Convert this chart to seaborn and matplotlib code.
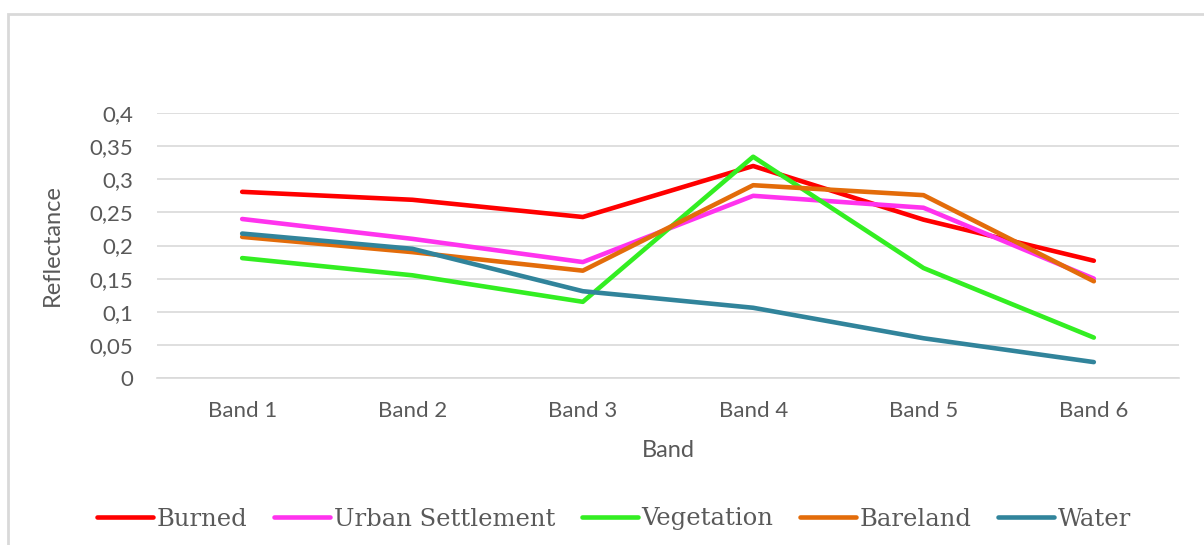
import seaborn as sns
import pandas as pd
import matplotlib.pyplot as plt
from matplotlib.patches import Rectangle
from matplotlib.ticker import FuncFormatter, MultipleLocator

bands = ["Band 1", "Band 2", "Band 3", "Band 4", "Band 5", "Band 6"]
burned = [0.281, 0.269, 0.243, 0.320, 0.239, 0.177]
urban = [0.240, 0.210, 0.175, 0.275, 0.257, 0.150]
vegetation = [0.181, 0.155, 0.115, 0.334, 0.166, 0.061]
bareland = [0.213, 0.190, 0.162, 0.291, 0.276, 0.146]
water = [0.218, 0.195, 0.131, 0.106, 0.060, 0.024]

classes = ["Burned", "Urban Settlement", "Vegetation", "Bareland", "Water"]
colors = ["#FF0000", "#FF33EE", "#33EE22", "#E36C0A", "#31849B"]

series = [burned, urban, vegetation, bareland, water]
df = pd.concat(
    [pd.DataFrame({"Band": bands, "Reflectance": vals, "Class": name})
     for name, vals in zip(classes, series)],
    ignore_index=True,
)

sns.set_style("white")
plt.rcParams["font.family"] = ["Lato", "DejaVu Sans"]
GREY = "#595959"
LW = 3.3

fig = plt.figure(figsize=(12.04, 5.45), dpi=100)
ax = fig.add_axes([157 / 1204, 1 - 378 / 545, (1179 - 157) / 1204, (378 - 113) / 545])

sns.lineplot(
    data=df, x="Band", y="Reflectance", hue="Class", hue_order=classes,
    palette=colors, linewidth=LW, sort=False, ax=ax, legend=False,
)
for ln in ax.lines:
    ln.set_solid_capstyle("round")

ax.set_xlim(-0.5, len(bands) - 0.5)
ax.set_ylim(0, 0.4)
ax.yaxis.set_major_locator(MultipleLocator(0.05))
ax.yaxis.set_major_formatter(
    FuncFormatter(lambda v, p: "0" if abs(v) < 1e-9 else f"{v:g}".replace(".", ","))
)
ax.grid(axis="y", color="#D9D9D9", linewidth=1.2)
ax.set_axisbelow(True)
for s in ["top", "right", "left"]:
    ax.spines[s].set_visible(False)
ax.spines["bottom"].set_color("#D9D9D9")
ax.spines["bottom"].set_linewidth(1.2)
ax.tick_params(axis="both", length=0, labelsize=16, labelcolor=GREY)
ax.tick_params(axis="x", pad=16.5)
ax.tick_params(axis="y", pad=17)

ax.set_xlabel("Band", fontsize=17, color=GREY)
ax.set_ylabel("Reflectance", fontsize=17, color=GREY)
ax.xaxis.set_label_coords(0.5, -(440 - 378) / 265)
ax.yaxis.set_label_coords(-(157 - 63) / 1022, 0.5)

handles = [plt.Line2D([], [], color=c, linewidth=LW, solid_capstyle="round") for c in colors]
leg = fig.legend(
    handles, classes, loc="center", bbox_to_anchor=(614 / 1204, 1 - 519 / 545),
    ncol=5, frameon=False, handlelength=2.3, handletextpad=0.15, columnspacing=1.1,
    prop={"family": "DejaVu Serif", "size": 17.5},
)
for t in leg.get_texts():
    t.set_color(GREY)

fig.patches.append(Rectangle((8 / 1204, -0.1), 1.2, 1 - 14 / 545 + 0.1,
                             transform=fig.transFigure, fill=False,
                             edgecolor="#D9D9D9", linewidth=2))

fig.savefig("out.png", dpi=100)
